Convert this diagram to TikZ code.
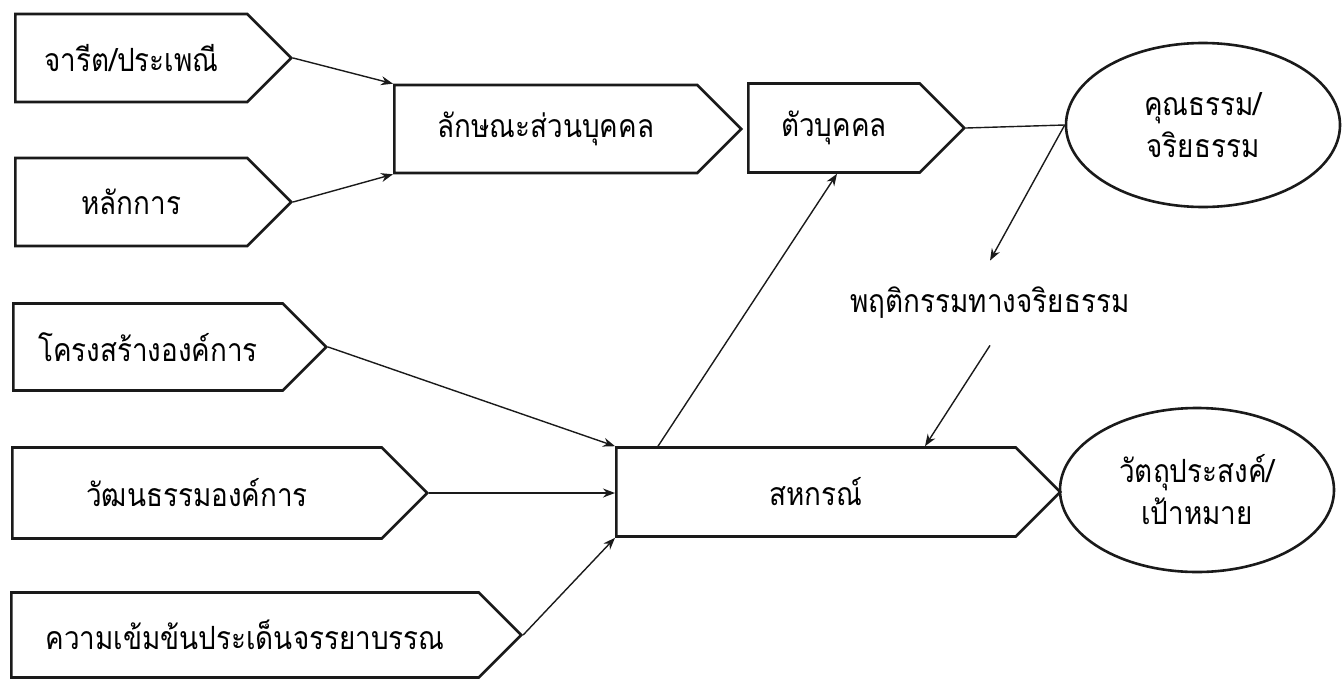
\documentclass[tikz,border=0pt]{standalone}
\usepackage{fontspec}
\usepackage{tikz}
\usetikzlibrary{positioning,arrows.meta,calc,shapes.geometric,shapes.symbols}
\newfontfamily\thaifont[Script=Thai,FakeStretch=0.87]{Loma}
\definecolor{cInk}{HTML}{1A1A1A}

\begin{document}
\begin{tikzpicture}[
  x=0.5pt, y=-0.5pt,
  font=\thaifont\fontsize{16}{21}\selectfont,
  >={Stealth[length=6pt,width=4.5pt]},
  tab/.style={signal, signal to=east, signal pointer angle=90, draw=cInk,
              line width=1.3pt, anchor=west, inner sep=2pt},
  oval/.style={ellipse, draw=cInk, line width=1.3pt, align=center,
               minimum width=137pt, minimum height=82pt, inner sep=0pt},
  flow/.style={->, draw=cInk, line width=0.7pt},
  link/.style={draw=cInk, line width=0.7pt},
  tag/.style={inner sep=0pt, minimum height=42pt},
]
\useasboundingbox (0,0) rectangle (1342,680);

% ---- left column: sources
\node[tab, minimum width=138pt, minimum height=44pt] (rite) at (14,58) {จารีต/ประเพณี};
\node[tab, minimum width=138pt, minimum height=44pt] (principle) at (14,202) {หลักการ};
\node[tab, minimum width=156.5pt, minimum height=43.5pt] (struct) at (12,347) {โครงสร้างองค์การ};
\node[tab, minimum width=207.5pt, minimum height=45.5pt] (culture) at (11,493) {วัฒนธรรมองค์การ};
\node[tab, minimum width=255pt, minimum height=42.5pt] (intensity) at (10,635) {ความเข้มข้นประเด็นจรรยาบรรณ};

% ---- middle: person and cooperative
\node[tab, minimum width=173.5pt, minimum height=44pt] (trait) at (393,129) {ลักษณะส่วนบุคคล};
\node[tab, minimum width=108pt, minimum height=44.5pt] (person) at (747,128) {ตัวบุคคล};
\node[tab, minimum width=222pt, minimum height=44.5pt] (coop) at (615,492) {สหกรณ์};
\node[tag] (behav) at (990,303) {พฤติกรรมทางจริยธรรม};

% ---- right: outcomes
\node[oval] (virtue) at (1203,125) {คุณธรรม/\\จริยธรรม};
\node[oval] (goal) at (1197,490) {วัตถุประสงค์/\\เป้าหมาย};

\draw[flow] (rite.east) -- (trait.north west);
\draw[flow] (principle.east) -- (trait.south west);
\draw[flow] (struct.east) -- (coop.north west);
\draw[flow] (culture.east) -- (culture.east -| coop.west);
\draw[flow] (intensity.east) -- (coop.south west);
\draw[link] (person.east) -- (virtue.west);
\draw[flow] (virtue.west) -- (behav.north);
\draw[flow] (behav.south) -- ($(coop.north west)+(310,0)$);
\draw[flow] ($(coop.north west)+(43,0)$) -- ($(person.south west)+(90,0)$);
\end{tikzpicture}
\end{document}
